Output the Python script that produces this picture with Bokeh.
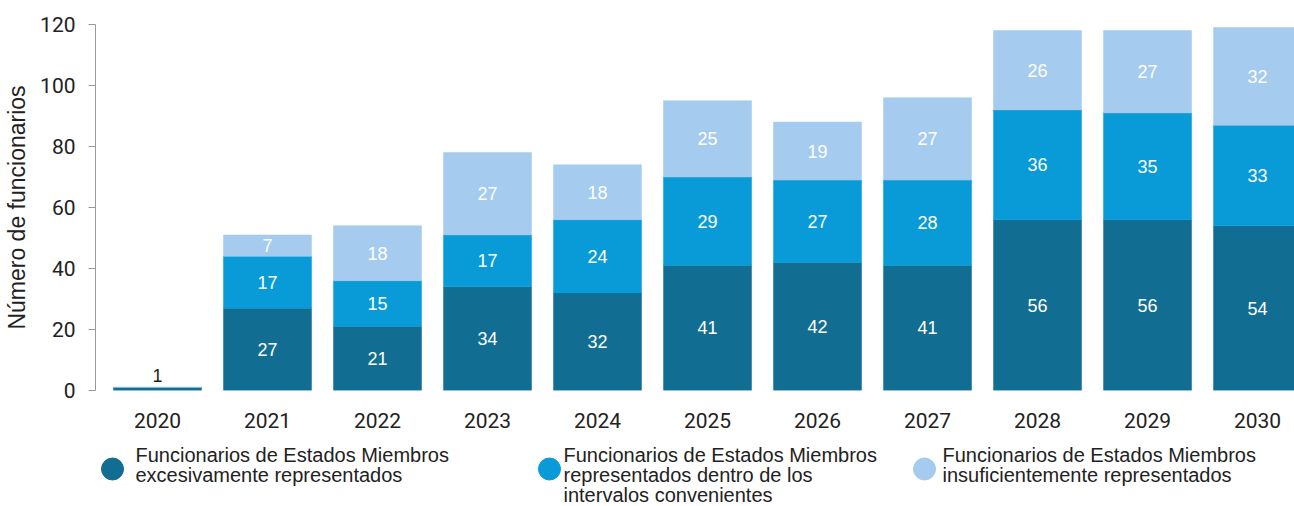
from bokeh.plotting import figure
from bokeh.models import Range1d, FixedTicker, Column
from bokeh.core.properties import value
from bokeh.embed import file_html
from bokeh.resources import INLINE

years = ["2020", "2021", "2022", "2023", "2024", "2025", "2026", "2027", "2028", "2029", "2030"]
over = [1, 27, 21, 34, 32, 41, 42, 41, 56, 56, 54]
within = [0, 17, 15, 17, 24, 29, 27, 28, 36, 35, 33]
under = [0, 7, 18, 27, 18, 25, 19, 27, 26, 27, 32]
y_ticks = [0, 20, 40, 60, 80, 100, 120]
series_labels = [
    "Funcionarios de Estados Miembros\nexcesivamente representados",
    "Funcionarios de Estados Miembros\nrepresentados dentro de los\nintervalos convenientes",
    "Funcionarios de Estados Miembros\ninsuficientemente representados",
]
colors = ["#126d93", "#089bd8", "#a5cbee"]

FONT = "Roboto"
LFONT = "Liberation Sans"

W = 1294
FRAME_L = 95

xs = list(range(len(years)))
b1 = [0] * len(xs)
t1 = over
b2 = t1
t2 = [a + b for a, b in zip(t1, within)]
b3 = t2
t3 = [a + b for a, b in zip(t2, under)]

p = figure(width=W, height=434, output_backend="svg", toolbar_location=None,
           x_range=Range1d(-0.5636, 10.336), y_range=Range1d(0, 120),
           min_border_left=FRAME_L, min_border_right=0, min_border_top=24, min_border_bottom=44)
p.outline_line_color = None
p.xgrid.visible = False
p.ygrid.visible = False

for bot, top, col in [(b1, t1, colors[0]), (b2, t2, colors[1]), (b3, t3, colors[2])]:
    p.vbar(x=xs, bottom=bot, top=top, width=0.8, fill_color=col, line_color=col, line_width=0.5)

# segment labels
lx, ly, lt = [], [], []
for i in xs:
    for bot, top, v in [(b1[i], t1[i], over[i]), (b2[i], t2[i], within[i]), (b3[i], t3[i], under[i])]:
        if v >= 3:
            lx.append(i); ly.append((bot + top) / 2); lt.append(str(v))
p.text(x=lx, y=ly, text=lt, text_color="white", text_font=value(LFONT), text_font_size="18px",
       text_align="center", text_baseline="middle")
# small values above the bar
sx, sy, st = [], [], []
for i in xs:
    if over[i] < 3 and within[i] == 0 and under[i] == 0:
        sx.append(i); sy.append(t3[i] + 4); st.append(str(over[i]))
p.text(x=sx, y=sy, text=st, text_color="#222222", text_font=value(LFONT), text_font_size="18px",
       text_align="center", text_baseline="alphabetic")

p.xaxis.ticker = FixedTicker(ticks=xs)
p.xaxis.major_label_overrides = {i: y for i, y in zip(xs, years)}
p.xaxis.axis_line_color = None
p.xaxis.major_tick_line_color = None
p.xaxis.minor_tick_line_color = None
p.xaxis.major_tick_out = 0
p.xaxis.major_label_standoff = 22
p.xaxis.major_label_text_font = FONT
p.xaxis.major_label_text_font_size = "21px"
p.xaxis.major_label_text_color = "#222222"

p.yaxis.ticker = FixedTicker(ticks=y_ticks)
p.yaxis.axis_line_color = "#999999"
p.yaxis.major_tick_line_color = "#999999"
p.yaxis.major_tick_out = 7
p.yaxis.major_tick_in = 0
p.yaxis.minor_tick_line_color = None
p.yaxis.major_label_standoff = 13
p.yaxis.major_label_text_font = FONT
p.yaxis.major_label_text_font_size = "21px"
p.yaxis.major_label_text_color = "#222222"
p.yaxis.axis_label = "Número de funcionarios"
p.yaxis.axis_label_text_font = LFONT
p.yaxis.axis_label_text_font_size = "23px"
p.yaxis.axis_label_text_font_style = "normal"
p.yaxis.axis_label_text_color = "#222222"
p.yaxis.axis_label_standoff = 7

# legend figure (page pixel coordinates; frame aligned with the chart frame)
LTOP, LBOT = 434, 506
lg = figure(width=W, height=LBOT - LTOP, output_backend="svg", toolbar_location=None,
            x_range=Range1d(FRAME_L, W), y_range=Range1d(LBOT, LTOP),
            min_border_left=FRAME_L, min_border_right=0, min_border_top=0, min_border_bottom=0)
lg.axis.visible = False
lg.grid.visible = False
lg.outline_line_color = None
cx = [112, 549, 924]
tx = [135, 563, 942]
lg.scatter(x=cx, y=[468.5] * 3, size=22, marker="circle", fill_color=colors, line_color=colors)
lg.text(x=tx, y=[443] * 3, text=series_labels, text_font=value(LFONT), text_font_size="20px",
        text_color="#222222", text_align="left", text_baseline="top", text_line_height=0.93)

layout = Column(children=[p, lg], spacing=0)
open("out.html", "w").write(file_html(layout, INLINE))
